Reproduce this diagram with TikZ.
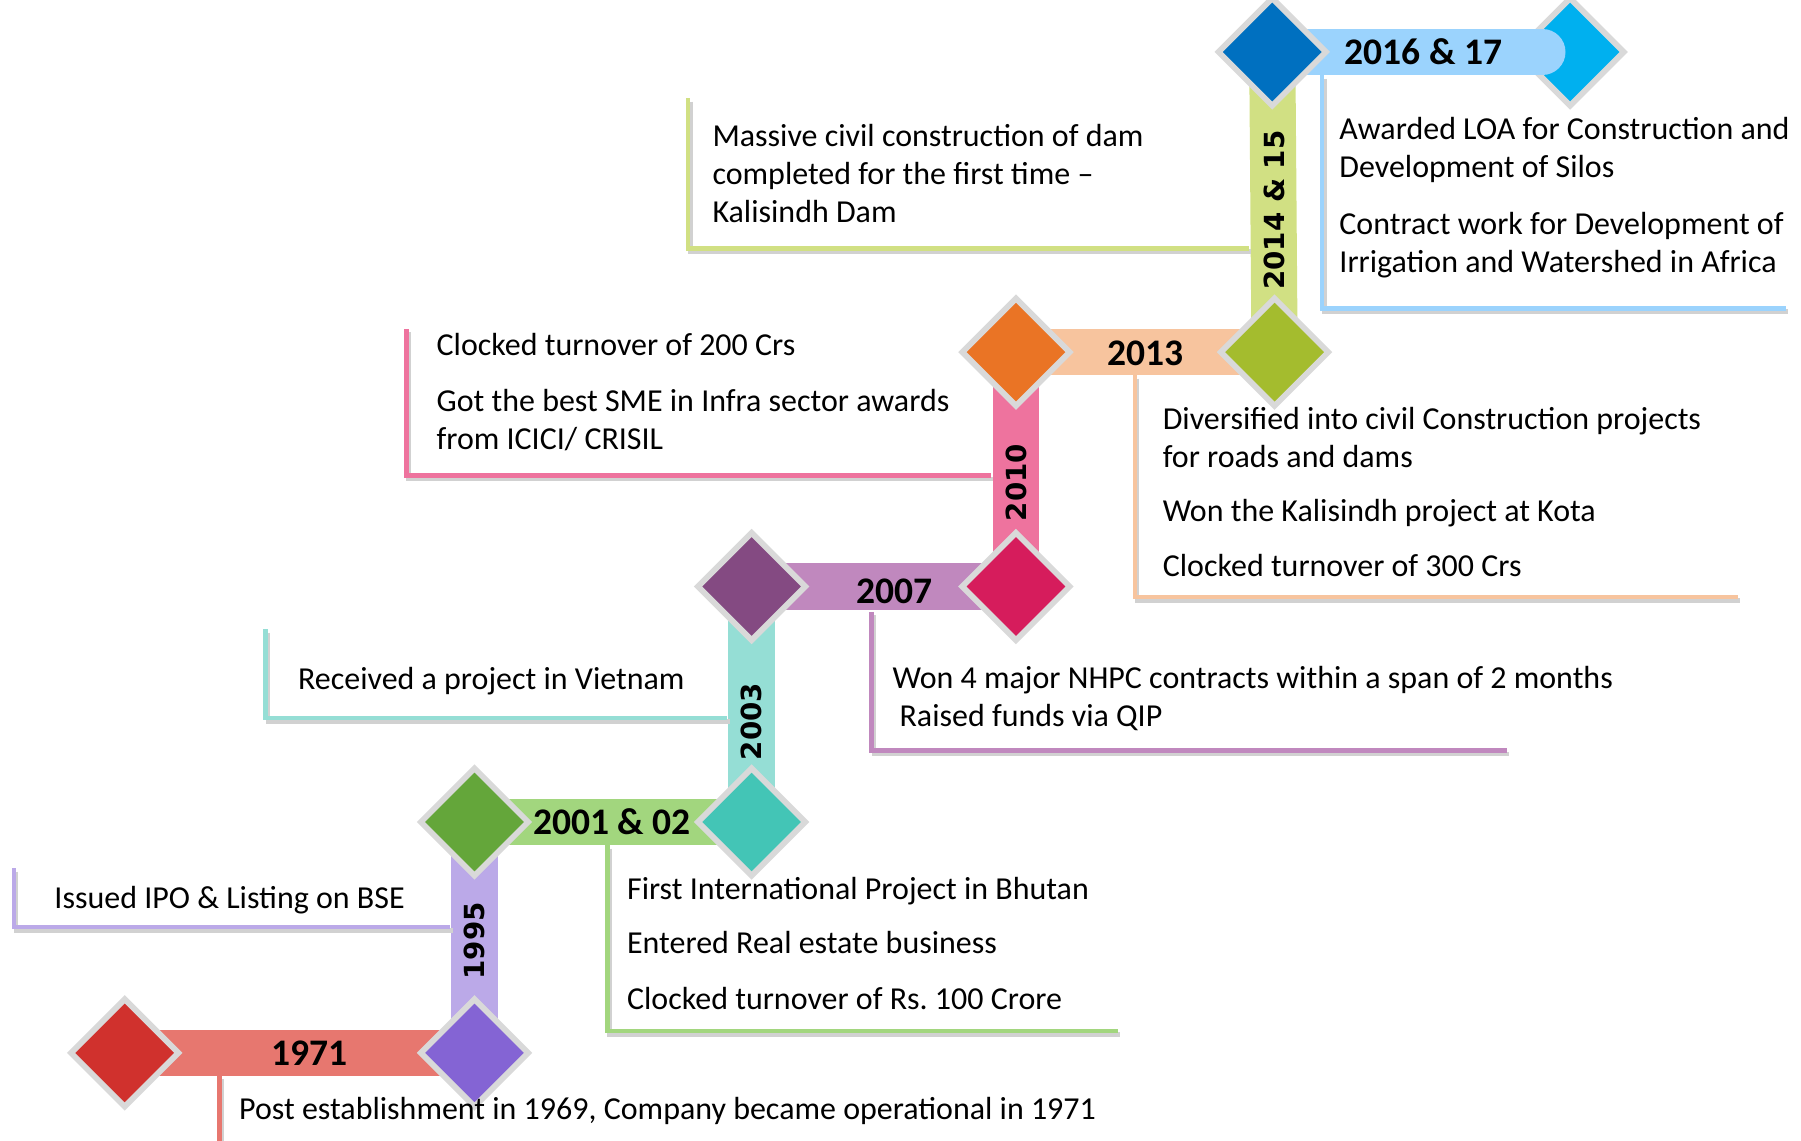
\documentclass[tikz,border=0pt]{standalone}
\usepackage{fontspec}
\setmainfont{Carlito}
\newfontfamily\vfont{DejaVu Sans}
\usetikzlibrary{shapes.geometric}
\definecolor{rim}{HTML}{D9D9D9}
\definecolor{ruby}{HTML}{D0312D}
\definecolor{violet}{HTML}{8464D4}
\definecolor{leaf}{HTML}{64A63A}
\definecolor{teal}{HTML}{43C5B6}
\definecolor{plum}{HTML}{844A82}
\definecolor{rose}{HTML}{D61C5C}
\definecolor{amber}{HTML}{EA7425}
\definecolor{olive}{HTML}{A4BC2E}
\definecolor{navy}{HTML}{0070C0}
\definecolor{sky}{HTML}{00B0EF}
\definecolor{c71}{HTML}{E7776F}
\definecolor{c95}{HTML}{BBA9E8}
\definecolor{c01}{HTML}{A2D67E}
\definecolor{c03}{HTML}{95DED5}
\definecolor{c07}{HTML}{C088BE}
\definecolor{c10}{HTML}{EE739E}
\definecolor{c13}{HTML}{F7C49E}
\definecolor{c14}{HTML}{D1E083}
\definecolor{c16}{HTML}{9BD3FD}
\tikzset{
  bar/.style={draw=#1, line width=40pt},
  gem/.style={diamond, fill=#1, draw=rim, line width=5pt, minimum width=95pt, minimum height=95pt, inner sep=0pt},
  leg/.style={draw=#1, line width=4pt, preaction={draw=black!18, line width=4pt, transform canvas={xshift=2pt,yshift=-3pt}}},
  yr/.style={font=\fontsize{32.5}{32.5}\selectfont\bfseries, inner sep=0pt},
  vyr/.style={font=\vfont\bfseries\fontsize{24}{24}\selectfont, rotate=90, inner sep=0pt},
  txt/.style={anchor=base west, align=left, font=\fontsize{27.7}{33}\selectfont, inner sep=0pt},
}
\begin{document}
\begin{tikzpicture}[x=1pt,y=-1pt]
  \useasboundingbox (0,0) rectangle (1560,988);
  \coordinate (A) at (108,912);
  \coordinate (B) at (411,912);
  \coordinate (C) at (411,712);
  \coordinate (D) at (651,712);
  \coordinate (E) at (651,508);
  \coordinate (F) at (880,508);
  \coordinate (G) at (880,305);
  \coordinate (H) at (1104,305);
  \coordinate (I) at (1102,45);
  \coordinate (J) at (1360,45);
  \coordinate (K) at (1336,45);
  \draw[bar=c71] (A)--(B);
  \draw[bar=c95] (B)--(C);
  \draw[bar=c01] (C)--(D);
  \draw[bar=c03] (D)--(E);
  \draw[bar=c07] (E)--(F);
  \draw[bar=c10] (F)--(G);
  \draw[bar=c13] (G)--(H);
  \draw[bar=c14] (H)--(I);
  \coordinate (s71) at (190,932);  \coordinate (e71) at (942,990);
  \coordinate (s95) at (12,752);   \coordinate (e95) at (390,803);
  \coordinate (s01) at (526,732);  \coordinate (e01) at (968,893);
  \coordinate (s03) at (230,545);  \coordinate (e03) at (630,622);
  \coordinate (s07) at (755,530);  \coordinate (e07) at (1305,650);
  \coordinate (s10) at (352,285);  \coordinate (e10) at (858,412);
  \coordinate (s13) at (983,325);  \coordinate (e13) at (1505,517);
  \coordinate (s14) at (596,85);   \coordinate (e14) at (1082,215);
  \coordinate (s16) at (1145,65);  \coordinate (e16) at (1547,267);
  \draw[leg=c71] (s71) |- (e71);
  \draw[leg=c95] (s95) |- (e95);
  \draw[leg=c01] (s01) |- (e01);
  \draw[leg=c03] (s03) |- (e03);
  \draw[leg=c07] (s07) |- (e07);
  \draw[leg=c10] (s10) |- (e10);
  \draw[leg=c13] (s13) |- (e13);
  \draw[leg=c14] (s14) |- (e14);
  \draw[leg=c16] (s16) |- (e16);
  \node[gem=ruby] (gA) at (A) {};
  \node[gem=violet] (gB) at (B) {};
  \node[gem=leaf] (gC) at (C) {};
  \node[gem=teal] (gD) at (D) {};
  \node[gem=plum] (gE) at (E) {};
  \node[gem=rose] (gF) at (F) {};
  \node[gem=amber] (gG) at (G) {};
  \node[gem=olive] (gH) at (H) {};
  \node[gem=sky] (gJ) at (J) {};
  \draw[bar=c16, line cap=round] (I)--(K);
  \node[gem=navy] (gI) at (I) {};
  \node[yr] (y71) at (268,912) {1971};
  \node[vyr] (y95) at (411,815) {1995};
  \node[yr] (y01) at (530,712) {2001 \& 02};
  \node[vyr] (y03) at (651,625) {2003};
  \node[yr] (y07) at (775,512) {2007};
  \node[vyr] (y10) at (880,418) {2010};
  \node[yr] (y13) at (992,306) {2013};
  \node[vyr] (y14) at (1104,182) {2014 \& 15};
  \node[yr] (y16) at (1233,45) {2016 \& 17};
  \node[txt] (t71) at (207,970) {Post establishment in 1969, Company became operational in 1971};
  \node[txt] (t95) at (47,787) {Issued IPO \& Listing on BSE};
  \node[txt] (t01a) at (543,779) {First International Project in Bhutan};
  \node[txt] (t01b) at (543,826) {Entered Real estate business};
  \node[txt] (t01c) at (543,874) {Clocked turnover of Rs.~100 Crore};
  \node[txt] (t03) at (258,597) {Received a project in Vietnam};
  \node[txt] (t07) at (773,629) {Won 4 major NHPC contracts within a span of 2 months\\\hspace*{6pt}Raised funds via QIP};
  \node[txt] (t10a) at (378,308) {Clocked turnover of 200 Crs};
  \node[txt] (t10b) at (378,389) {Got the best SME in Infra sector awards\\from ICICI/ CRISIL};
  \node[txt] (t13a) at (1007,405) {Diversified into civil Construction projects\\for roads and dams};
  \node[txt] (t13b) at (1007,452) {Won the Kalisindh project at Kota};
  \node[txt] (t13c) at (1007,499) {Clocked turnover of 300 Crs};
  \node[txt] (t14) at (617,193) {Massive civil construction of dam\\completed for the first time –\\Kalisindh Dam};
  \node[txt] (t16a) at (1160,154) {Awarded LOA for Construction and\\Development of Silos};
  \node[txt] (t16b) at (1160,236) {Contract work for Development of\\Irrigation and Watershed in Africa};
\end{tikzpicture}
\end{document}
